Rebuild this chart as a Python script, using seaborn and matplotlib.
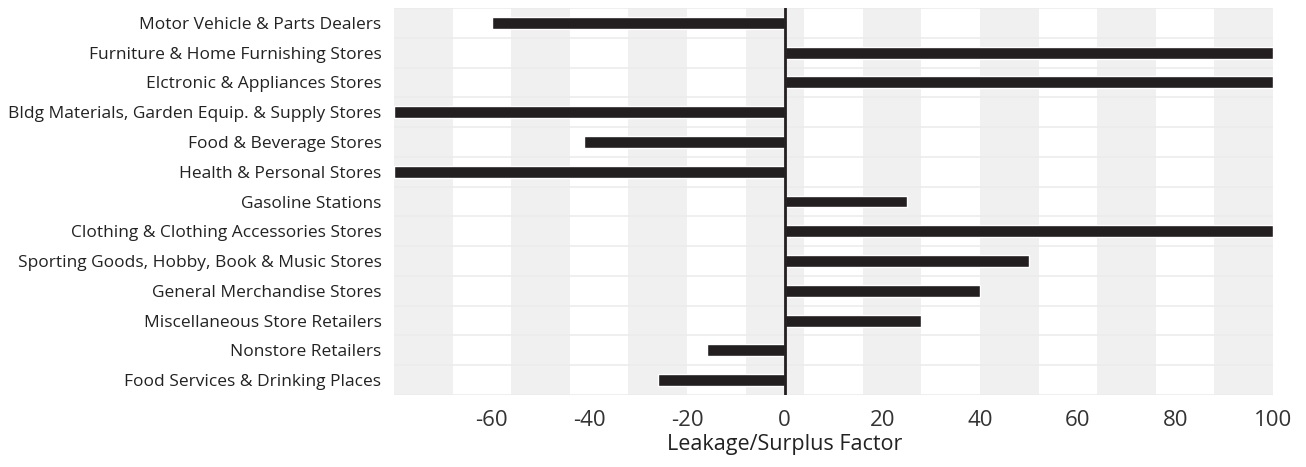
import matplotlib
matplotlib.use("Agg")
import matplotlib.pyplot as plt
import seaborn as sns
import pandas as pd

categories = [
    "Motor Vehicle & Parts Dealers",
    "Furniture & Home Furnishing Stores",
    "Elctronic & Appliances Stores",
    "Bldg Materials, Garden Equip. & Supply Stores",
    "Food & Beverage Stores",
    "Health & Personal Stores",
    "Gasoline Stations",
    "Clothing & Clothing Accessories Stores",
    "Sporting Goods, Hobby, Book & Music Stores",
    "General Merchandise Stores",
    "Miscellaneous Store Retailers",
    "Nonstore Retailers",
    "Food Services & Drinking Places",
]
factor = [-60, 100, 100, -80, -41, -80, 25, 100, 50, 40, 28, -16, -26]
tick_values = [-60, -40, -20, 0, 20, 40, 60, 80, 100]

df = pd.DataFrame({"category": categories, "factor": factor})

sns.set_theme(style="white")
plt.rcParams["font.family"] = ["Open Sans", "DejaVu Sans"]

fig, ax = plt.subplots(figsize=(13.06, 4.67), dpi=100)
fig.subplots_adjust(left=394 / 1306, right=1273 / 1306,
                    top=1 - 8 / 467, bottom=1 - 395 / 467)

xmin, xmax = -80, 100
band = 12
# alternating vertical shading
x = xmin
shade = True
while x < xmax:
    if shade:
        ax.axvspan(x, min(x + band, xmax), color="#f0f0f0", lw=0, zorder=0)
    x += band
    shade = not shade

# faint separators between categories
for i in range(len(categories) + 1):
    ax.axhline(i - 0.5, color="#ececec", lw=1.2, zorder=0.5)

sns.barplot(data=df, x="factor", y="category", orient="h", order=categories,
            color="#231f20", width=0.4, saturation=1, ax=ax, zorder=2)

ax.axvline(0, color="#231f20", lw=2, zorder=3)

ax.set_xlim(xmin, xmax)
ax.set_ylim(len(categories) - 0.5, -0.5)
ax.set_xticks(tick_values)
ax.set_xticklabels([str(v) for v in tick_values], fontsize=16, color="#333333")
ax.tick_params(axis="y", labelsize=12.5, labelcolor="#222222", length=0, pad=9)
ax.tick_params(axis="x", length=0, pad=11)
ax.set_ylabel("")
ax.set_xlabel("Leakage/Surplus Factor", fontsize=15.5, color="#222222", labelpad=2)
ax.xaxis.set_label_coords((0 - xmin) / (xmax - xmin), -0.1)
for s in ax.spines.values():
    s.set_visible(False)

fig.savefig("out.png", dpi=100, facecolor="white")
